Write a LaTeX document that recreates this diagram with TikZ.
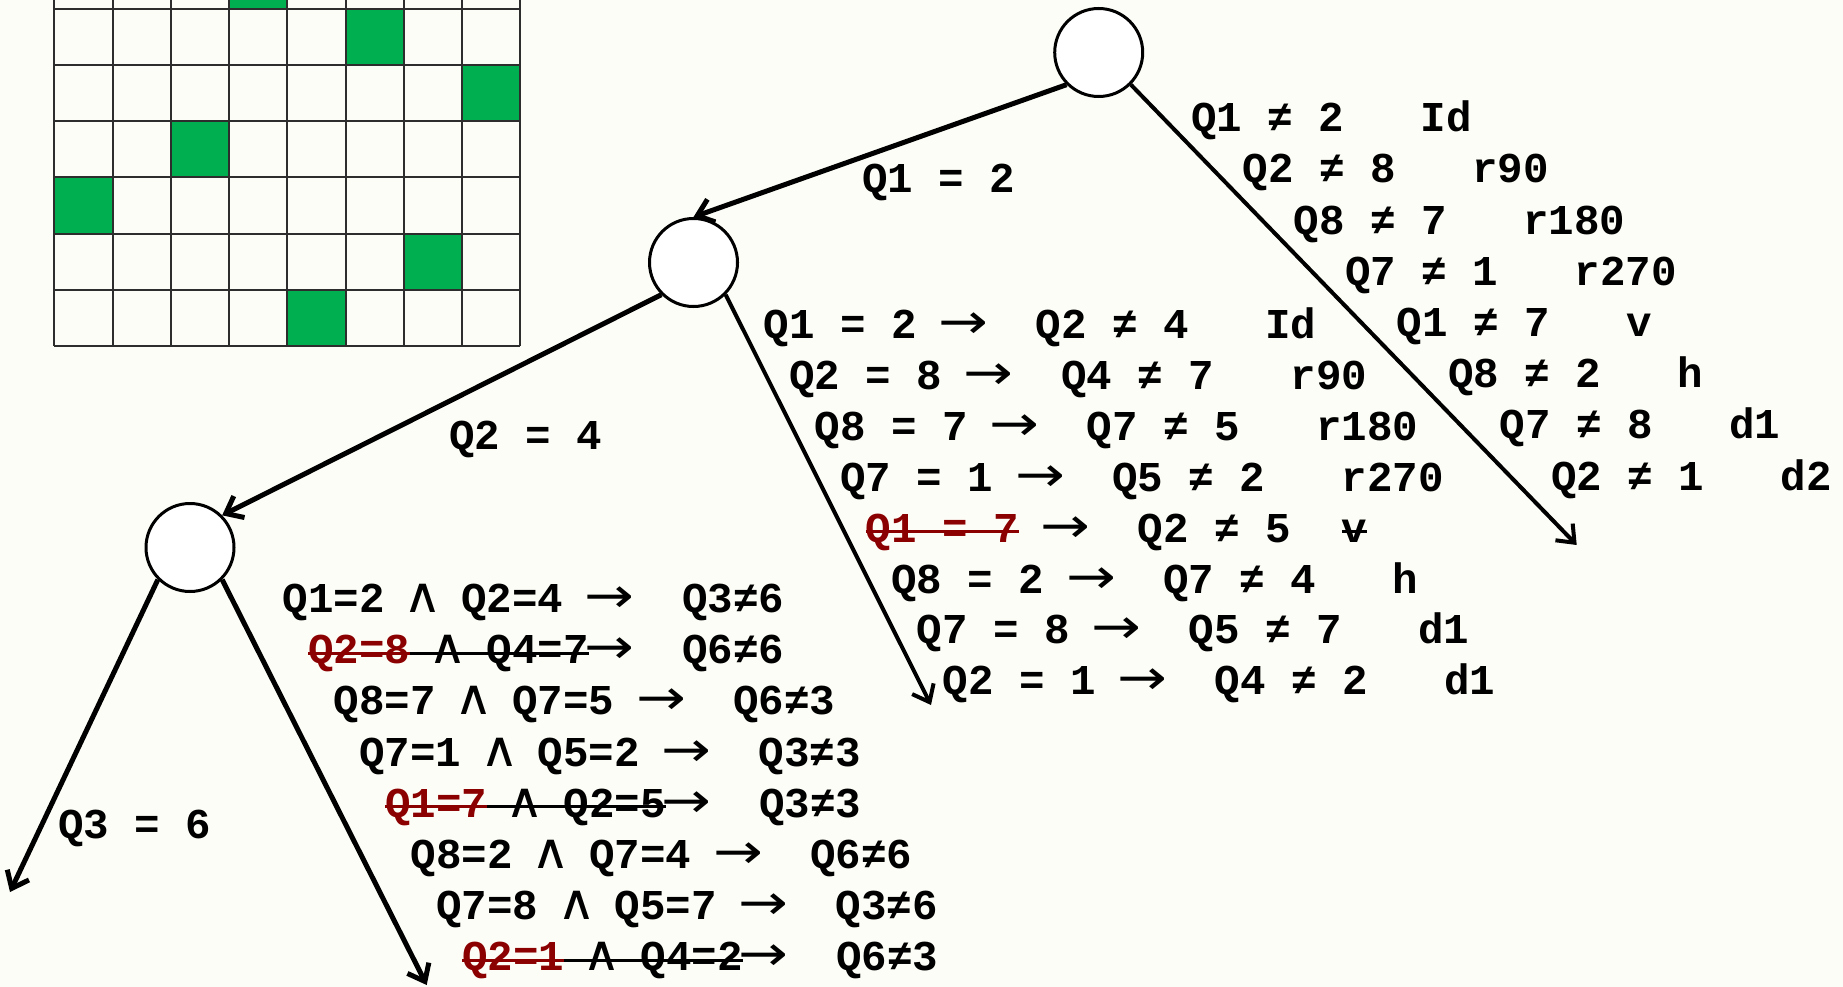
\documentclass[tikz,border=0pt]{standalone}
\usepackage{graphicx}
\usepackage{fontspec}
\newfontfamily\qmono{Liberation Mono}
\newfontfamily\qsym{DejaVu Sans}
\usetikzlibrary{arrows.meta}
\definecolor{bg}{RGB}{253,253,247}
\definecolor{qgreen}{RGB}{0,176,80}
\definecolor{qred}{RGB}{139,0,0}
\definecolor{gridc}{RGB}{45,45,45}
\newcommand\myarr{\makebox[1em]{\scalebox{1.4}[1.15]{\qsym\mdseries →}}}
\newcommand\mywedge{\makebox[0.6em]{\scalebox{1.25}[1.15]{\qsym\mdseries ∧}}}
\begin{document}
\begin{tikzpicture}[x=1pt,y=-1pt,
  txt/.style={anchor=base west,inner sep=0pt,outer sep=0pt,font=\qmono\bfseries\fontsize{42.5}{50}\selectfont},
  state/.style={circle,draw,fill=white,line width=3pt,minimum size=88pt,inner sep=0pt},
  conn/.style={line width=5pt,-{Straight Barb[length=15pt,width=24pt]}},
  connthin/.style={conn,line width=4pt},
  strike/.style={line width=3pt}]
\fill[bg] (0,0) rectangle (1843,987);
\useasboundingbox (0,0) rectangle (1843,987);
% board
\begin{scope}
\clip (0,0) rectangle (600,400);
\foreach \j/\k in {3/-1,5/0,7/1,2/2,0/3,6/4,4/5}
  \fill[qgreen] (54.3+58.26*\j,9.3+56.06*\k) rectangle (54.3+58.26*\j+58.26,9.3+56.06*\k+56.06);
\foreach \k in {0,...,6}
  \draw[gridc,line width=2pt] (54.3,9.3+56.06*\k) -- (520.4,9.3+56.06*\k);
\foreach \j in {0,...,8}
  \draw[gridc,line width=2pt] (54.3+58.26*\j,-60) -- (54.3+58.26*\j,345.7);
\end{scope}
% tree
\node[state] (root) at (1098.7,52.5) {};
\node[state] (n2) at (693.5,262.5) {};
\node[state] (n3) at (190,547.5) {};
\coordinate (e1) at (1576.7,545);
\coordinate (e2) at (931,705);
\coordinate (e3) at (10,892);
\coordinate (e4) at (426.7,985);
\draw[conn] (root.south west) -- (n2.north);
\draw[connthin] (root.south east) -- (e1);
\draw[conn] (n2.south west) -- (n3.north east);
\draw[connthin] (n2.south east) -- (e2);
\draw[conn] (n3.south west) -- (e3);
\draw[conn] (n3.south east) -- (e4);
% edge labels
\node[txt] (lab1) at (862,193) {Q1~=~2};
\node[txt] (lab2) at (449,449) {Q2~=~4};
\node[txt] (lab3) at (58,838.3) {Q3~=~6};
% right column
\foreach \i/\xx/\yy/\t in {
  0/1191/131.7/{Q1~≠~2~~~Id},
  1/1242.5/182.9/{Q2~≠~8~~~r90},
  2/1293.9/234.1/{Q8~≠~7~~~r180},
  3/1345.4/285.3/{Q7~≠~1~~~r270},
  4/1396.8/336.5/{Q1~≠~7~~~v},
  5/1448.3/387.7/{Q8~≠~2~~~h},
  6/1499.8/438.9/{Q7~≠~8~~~d1},
  7/1551.2/490.1/{Q2~≠~1~~~d2}}
  \node[txt] (r\i) at (\xx,\yy) {\t};
% middle column
\foreach \i/\xx/\yy/\t in {
  0/763.5/338.5/{Q1~=~2~\myarr~~Q2~≠~4~~~Id},
  1/789.1/389.4/{Q2~=~8~\myarr~~Q4~≠~7~~~r90},
  2/814.6/440.3/{Q8~=~7~\myarr~~Q7~≠~5~~~r180},
  3/840.2/491.2/{Q7~=~1~\myarr~~Q5~≠~2~~~r270},
  5/891.4/593.0/{Q8~=~2~\myarr~~Q7~≠~4~~~h},
  6/916.9/643.9/{Q7~=~8~\myarr~~Q5~≠~7~~~d1},
  7/942.5/694.8/{Q2~=~1~\myarr~~Q4~≠~2~~~d1}}
  \node[txt] (m\i) at (\xx,\yy) {\t};
\node[txt,text=qred] (m4a) at (865.8,542.1) {Q1~=~7};
\node[txt] (m4b) at (m4a.base east) {~\myarr~~Q2~≠~5~~~};
\node[txt] (m4c) at (m4b.base east) {v};
\draw[strike,qred] ([yshift=10.5pt]m4a.base west) -- ([yshift=10.5pt]m4a.base east);
\draw[strike] ([yshift=10.5pt]m4c.base west) -- ([yshift=10.5pt]m4c.base east);
% left column
\foreach \i/\xx/\yy/\t in {
  0/282.5/612.5/{Q1=2~\mywedge~Q2=4~\myarr~~Q3≠6},
  2/333.8/714.9/{Q8=7~\mywedge~Q7=5~\myarr~~Q6≠3},
  3/359.4/766.1/{Q7=1~\mywedge~Q5=2~\myarr~~Q3≠3},
  5/410.7/868.5/{Q8=2~\mywedge~Q7=4~\myarr~~Q6≠6},
  6/436.3/919.7/{Q7=8~\mywedge~Q5=7~\myarr~~Q3≠6}}
  \node[txt] (l\i) at (\xx,\yy) {\t};
\foreach \i/\xx/\yy/\ta/\tb/\tc in {
  1/308.1/663.7/{Q2=8}/{~\mywedge~Q4=7~}/{\myarr~~Q6≠6},
  4/385.1/817.3/{Q1=7}/{~\mywedge~Q2=5~}/{\myarr~~Q3≠3},
  7/462/970.9/{Q2=1}/{~\mywedge~Q4=2~}/{\myarr~~Q6≠3}}{
  \node[txt,text=qred] (l\i a) at (\xx,\yy) {\ta};
  \node[txt] (l\i b) at (l\i a.base east) {\tb};
  \node[txt] (l\i c) at (l\i b.base east) {\tc};
  \draw[strike,qred] ([yshift=10.5pt]l\i a.base west) -- ([yshift=10.5pt]l\i a.base east);
  \draw[strike] ([yshift=10.5pt]l\i b.base west) -- ([yshift=10.5pt]l\i b.base east);
}
\end{tikzpicture}
\end{document}
